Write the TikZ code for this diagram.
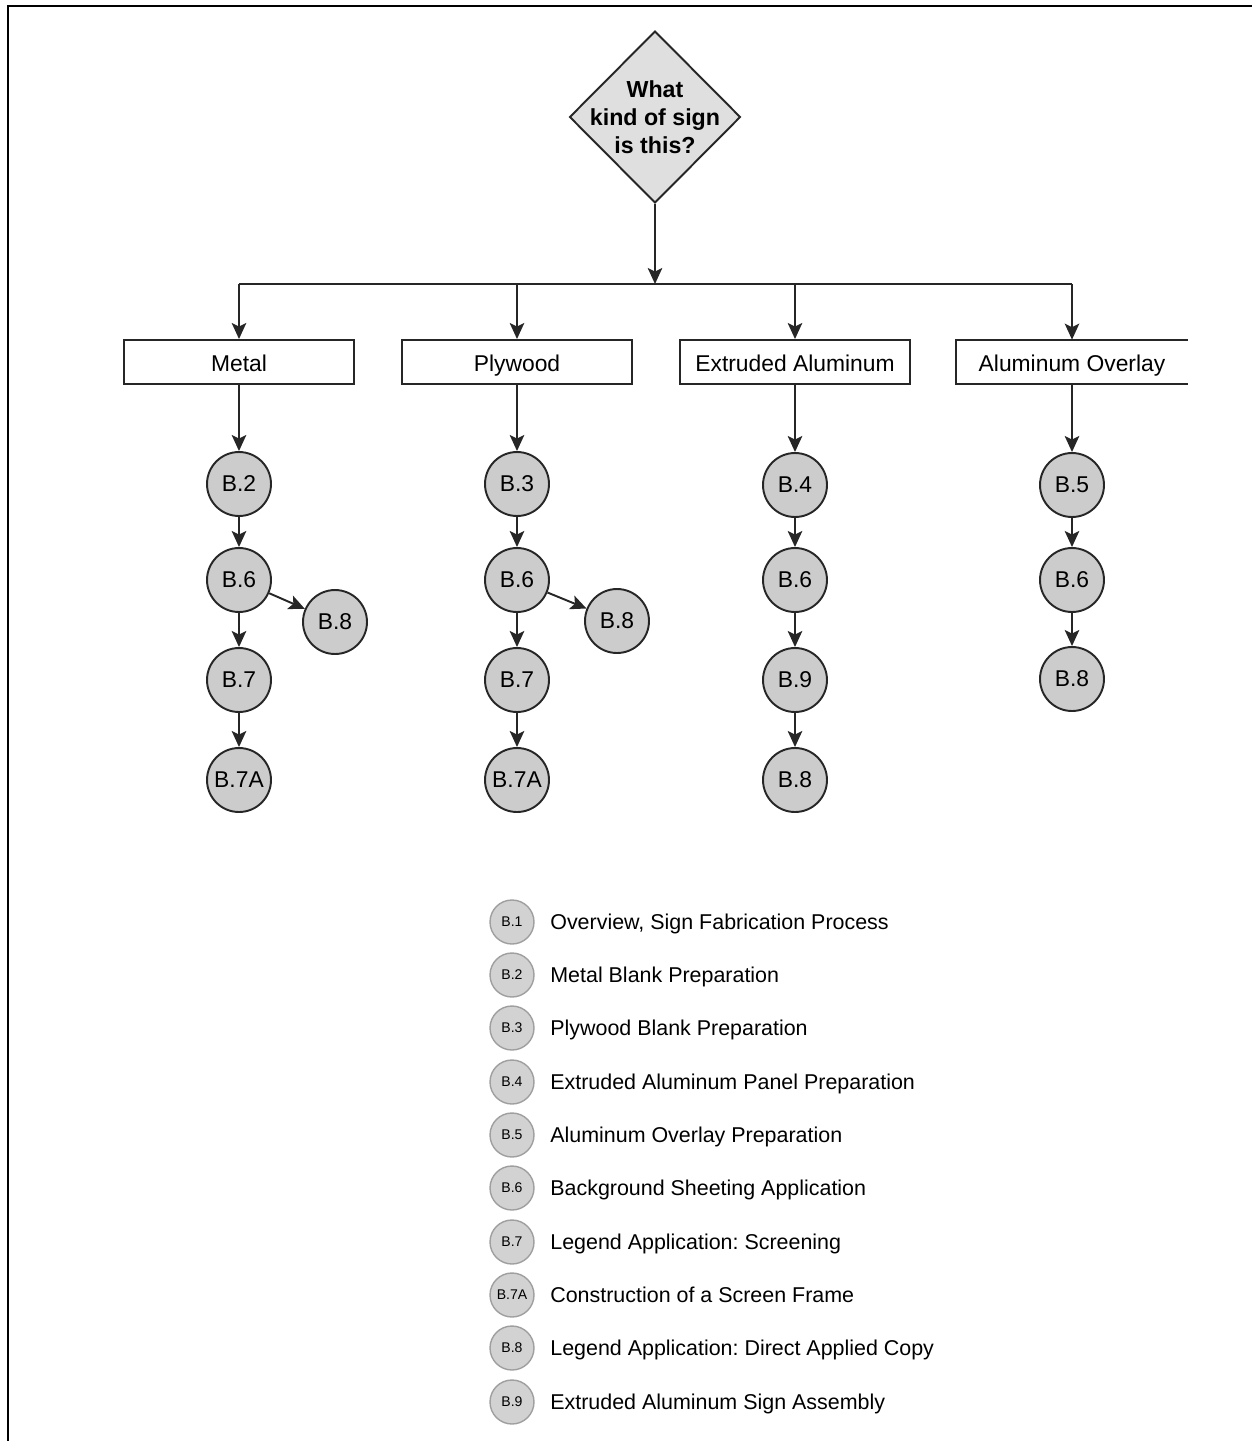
\documentclass[tikz,border=0pt]{standalone}
\usepackage{fontspec}
\setmainfont{Liberation Sans}
\usetikzlibrary{shapes.geometric,arrows.meta}
\frenchspacing
\begin{document}
\begin{tikzpicture}[x=0.02cm,y=-0.02cm,
 conn/.style={draw=black!85, line width=1.1pt, -{Stealth[length=0.32cm,width=0.29cm,inset=0.07cm]}},
 plain/.style={draw=black!85, line width=1.1pt},
 decision/.style={shape=diamond, draw=black!85, line width=1.1pt, fill=gray!25, minimum width=3.42cm, minimum height=3.44cm, inner sep=0pt},
 qtext/.style={font=\bfseries\fontsize{13.2}{15.9}\selectfont, align=center, inner sep=0pt},
 typebox/.style={draw=black!85, line width=1.1pt, fill=white, minimum width=4.6cm, minimum height=0.88cm, font=\fontsize{13}{15}\selectfont, inner sep=0pt, text height=11pt, text depth=0pt},
 openbox/.style={minimum width=4.62cm, minimum height=0.88cm, font=\fontsize{13}{15}\selectfont, inner sep=0pt, text height=11pt, text depth=0pt},
 stepnode/.style={circle, draw=black!85, line width=1.1pt, fill=gray!40, minimum size=1.28cm, inner sep=0pt, font=\fontsize{13}{15}\selectfont},
 legc/.style={circle, draw=gray!75, fill=gray!35, minimum size=0.88cm, inner sep=0pt, line width=0.8pt, font=\fontsize{8}{9}\selectfont},
 legt/.style={anchor=west, inner sep=0pt, font=\fontsize{12.2}{14}\selectfont, text height=9pt, text depth=0pt}
]
\useasboundingbox (0,0) rectangle (1252,1441);
% frame
\draw[black, line width=1.7pt] (8,1441) -- (8,6) -- (1252,6);

% decision
\node[decision] (q) at (655,117) {};
\node[qtext] (qt) at (655,117) {What\\kind of sign\\is this?};

% bus
\coordinate (busc) at (655,284);
\coordinate (bm) at (239,284);
\coordinate (bp) at (517,284);
\coordinate (be) at (795,284);
\coordinate (bo) at (1072,284);
\draw[plain] (bm) -- (bo);
\draw[conn] (q) -- (busc);

% type boxes
\node[typebox] (metal) at (239,362) {Metal};
\node[typebox] (ply) at (517,362) {Plywood};
\node[typebox] (ext) at (795,362) {Extruded Aluminum};
\node[openbox] (ovl) at (1072,362) {Aluminum Overlay};
\draw[plain] (ovl.north east) -- (ovl.north west) -- (ovl.south west) -- (ovl.south east);

\draw[conn] (bm) -- (metal);
\draw[conn] (bp) -- (ply);
\draw[conn] (be) -- (ext);
\draw[conn] (bo) -- (ovl);

% Metal column
\node[stepnode] (m2) at (239,484) {B.2};
\node[stepnode] (m6) at (239,580) {B.6};
\node[stepnode] (m8) at (335,622) {B.8};
\node[stepnode] (m7) at (239,680) {B.7};
\node[stepnode] (m7a) at (239,780) {B.7A};
\draw[conn] (metal) -- (m2);
\draw[conn] (m2) -- (m6);
\draw[conn] (m6) -- (m8);
\draw[conn] (m6) -- (m7);
\draw[conn] (m7) -- (m7a);

% Plywood column
\node[stepnode] (p3) at (517,484) {B.3};
\node[stepnode] (p6) at (517,580) {B.6};
\node[stepnode] (p8) at (617,621) {B.8};
\node[stepnode] (p7) at (517,680) {B.7};
\node[stepnode] (p7a) at (517,780) {B.7A};
\draw[conn] (ply) -- (p3);
\draw[conn] (p3) -- (p6);
\draw[conn] (p6) -- (p8);
\draw[conn] (p6) -- (p7);
\draw[conn] (p7) -- (p7a);

% Extruded column
\node[stepnode] (e4) at (795,485) {B.4};
\node[stepnode] (e6) at (795,580) {B.6};
\node[stepnode] (e9) at (795,680) {B.9};
\node[stepnode] (e8) at (795,780) {B.8};
\draw[conn] (ext) -- (e4);
\draw[conn] (e4) -- (e6);
\draw[conn] (e6) -- (e9);
\draw[conn] (e9) -- (e8);

% Overlay column
\node[stepnode] (o5) at (1072,485) {B.5};
\node[stepnode] (o6) at (1072,580) {B.6};
\node[stepnode] (o8) at (1072,679) {B.8};
\draw[conn] (ovl) -- (o5);
\draw[conn] (o5) -- (o6);
\draw[conn] (o6) -- (o8);

% legend
\node[legc] (l1) at (512,922) {B.1};
\node[legt] (t1) at (550,922) {Overview, Sign Fabrication Process};
\node[legc] (l2) at (512,975) {B.2};
\node[legt] (t2) at (550,975) {Metal Blank Preparation};
\node[legc] (l3) at (512,1028) {B.3};
\node[legt] (t3) at (550,1028) {Plywood Blank Preparation};
\node[legc] (l4) at (512,1082) {B.4};
\node[legt] (t4) at (550,1082) {Extruded Aluminum Panel Preparation};
\node[legc] (l5) at (512,1135) {B.5};
\node[legt] (t5) at (550,1135) {Aluminum Overlay Preparation};
\node[legc] (l6) at (512,1188) {B.6};
\node[legt] (t6) at (550,1188) {Background Sheeting Application};
\node[legc] (l7) at (512,1242) {B.7};
\node[legt] (t7) at (550,1242) {Legend Application: Screening};
\node[legc] (l7a) at (512,1295) {B.7A};
\node[legt] (t7a) at (550,1295) {Construction of a Screen Frame};
\node[legc] (l8) at (512,1348) {B.8};
\node[legt] (t8) at (550,1348) {Legend Application: Direct Applied Copy};
\node[legc] (l9) at (512,1402) {B.9};
\node[legt] (t9) at (550,1402) {Extruded Aluminum Sign Assembly};
\end{tikzpicture}
\end{document}
